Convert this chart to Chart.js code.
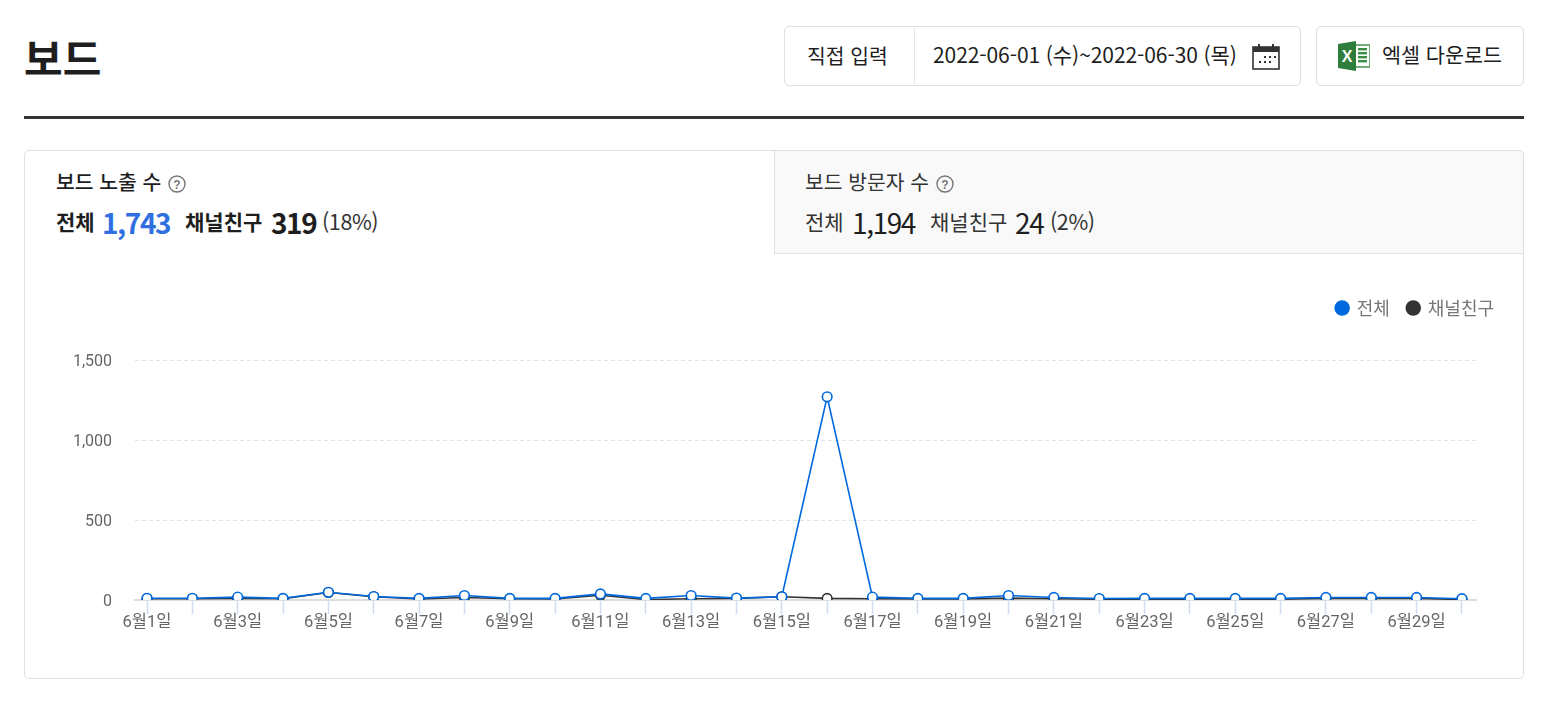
<!DOCTYPE html>
<html lang="ko">
<head>
<meta charset="utf-8">
<title>보드</title>
<script src="https://cdn.jsdelivr.net/npm/chart.js@4"></script>
<style>
  html, body { margin: 0; padding: 0; background: #fff; }
  body { width: 1548px; height: 702px; position: relative; overflow: hidden; font-family: "Noto Sans CJK KR", "Noto Sans", sans-serif; color: #1e1e1e; }
  .abs { position: absolute; white-space: nowrap; line-height: 1; }
  .box { position: absolute; box-sizing: border-box; border: 1px solid #e0e0e0; border-radius: 5px; background: #fff; }
  .title { left: 24px; top: 36px; font-size: 42px; font-weight: 700; }
  .rule { position: absolute; left: 24px; top: 116px; width: 1500px; height: 3px; background: #333; }
  .card { left: 24px; top: 150px; width: 1500px; height: 529px; }
  .tab { position: absolute; left: 774px; top: 150px; width: 750px; height: 104px; box-sizing: border-box; background: #f9f9f9; border: 1px solid #e0e0e0; border-radius: 0 5px 0 0; }
  .bold { font-weight: 700; }
  .num { font-size: 28px; letter-spacing: -1.4px; }
  .help { position: absolute; width: 18px; height: 18px; }
  #chart-wrap { position: absolute; left: 25px; top: 270px; width: 1498px; height: 400px; }
</style>
</head>
<body>
  <div class="abs title">보드</div>

  <div class="box" style="left:784px;top:26px;width:517px;height:60px"></div>
  <div style="position:absolute;left:914px;top:27px;width:1px;height:58px;background:#e6e6e6"></div>
  <div class="abs" style="left:807px;top:45px;font-size:20.4px">직접 입력</div>
  <div class="abs" style="left:933px;top:44px;font-size:21px;letter-spacing:-0.08px">2022-06-01 (수)~2022-06-30 (목)</div>
  <svg class="abs" style="left:1252px;top:43px" width="28" height="27" viewBox="0 0 28 27">
    <rect x="1" y="4" width="26" height="22" fill="none" stroke="#333" stroke-width="1.6"/>
    <rect x="1" y="4" width="26" height="5" fill="#333"/>
    <rect x="6" y="1" width="2" height="5" fill="#333"/>
    <rect x="20" y="1" width="2" height="5" fill="#333"/>
    <g fill="#333">
      <rect x="12" y="13" width="2" height="2"/><rect x="17" y="13" width="2" height="2"/><rect x="22" y="13" width="2" height="2"/>
      <rect x="7" y="18" width="2" height="2"/><rect x="12" y="18" width="2" height="2"/><rect x="17" y="18" width="2" height="2"/>
    </g>
  </svg>

  <div class="box" style="left:1316px;top:26px;width:208px;height:60px"></div>
  <svg class="abs" style="left:1338px;top:41px" width="32" height="30" viewBox="0 0 32 30">
    <rect x="12" y="4" width="20" height="22" fill="#fff" stroke="#3a8f45" stroke-width="1.4"/>
    <g fill="#3a8f45">
      <rect x="20" y="7" width="9" height="2.4"/><rect x="20" y="11" width="9" height="2.4"/><rect x="20" y="15" width="9" height="2.4"/><rect x="20" y="19" width="9" height="2.4"/>
    </g>
    <polygon points="0,3 18,0 18,30 0,27" fill="#2f7d3a"/>
    <text x="9" y="21" text-anchor="middle" font-family="Liberation Sans" font-weight="700" font-size="16" fill="#fff">X</text>
  </svg>
  <div class="abs" style="left:1382px;top:44px;font-size:20.7px">엑셀 다운로드</div>

  <div class="rule"></div>

  <div class="box card"></div>
  <div class="tab"></div>

  <div class="abs" style="left:56px;top:171px;font-size:20.4px;font-weight:500">보드 노출 수</div>
  <svg class="help" style="left:168px;top:175px" viewBox="0 0 18 18">
    <circle cx="9" cy="9" r="8" fill="none" stroke="#777" stroke-width="1.4"/>
    <text x="9" y="13.5" text-anchor="middle" font-family="Liberation Sans" font-weight="700" font-size="12" fill="#777">?</text>
  </svg>
  <div class="abs bold" style="left:56px;top:211px;font-size:21px">전체</div>
  <div class="abs bold num" style="left:102px;top:208px;color:#2f6fdf">1,743</div>
  <div class="abs bold" style="left:185px;top:211px;font-size:21px">채널친구</div>
  <div class="abs bold num" style="left:271px;top:208px">319</div>
  <div class="abs" style="left:322px;top:210px;font-size:21.5px;color:#333;letter-spacing:-0.4px">(18%)</div>

  <div class="abs" style="left:805px;top:171px;font-size:20.4px;color:#333">보드 방문자 수</div>
  <svg class="help" style="left:936px;top:175px" viewBox="0 0 18 18">
    <circle cx="9" cy="9" r="8" fill="none" stroke="#777" stroke-width="1.4"/>
    <text x="9" y="13.5" text-anchor="middle" font-family="Liberation Sans" font-weight="700" font-size="12" fill="#777">?</text>
  </svg>
  <div class="abs" style="left:805px;top:211px;font-size:21px;color:#333">전체</div>
  <div class="abs num" style="left:852px;top:208px">1,194</div>
  <div class="abs" style="left:930px;top:211px;font-size:21px;color:#333">채널친구</div>
  <div class="abs num" style="left:1015px;top:208px">24</div>
  <div class="abs" style="left:1050px;top:210px;font-size:21.5px;color:#333;letter-spacing:-0.4px">(2%)</div>

  <div id="chart-wrap"><canvas id="board-chart"></canvas></div>

<script>
  const days = [1, 2, 3, 4, 5, 6, 7, 8, 9, 10, 11, 12, 13, 14, 15, 16, 17, 18, 19, 20, 21, 22, 23, 24, 25, 26, 27, 28, 29, 30];
  const dayLabels = ['6월1일', '6월2일', '6월3일', '6월4일', '6월5일', '6월6일', '6월7일', '6월8일', '6월9일', '6월10일', '6월11일', '6월12일', '6월13일', '6월14일', '6월15일', '6월16일', '6월17일', '6월18일', '6월19일', '6월20일', '6월21일', '6월22일', '6월23일', '6월24일', '6월25일', '6월26일', '6월27일', '6월28일', '6월29일', '6월30일'];
  const totalValues = [11, 11, 18, 10, 48, 22, 10, 28, 10, 10, 38, 10, 28, 12, 20, 1270, 18, 10, 10, 28, 16, 9, 10, 10, 10, 10, 16, 16, 16, 8];
  const friendValues = [8, 8, 10, 8, 47, 20, 6, 16, 8, 7, 30, 3, 8, 10, 20, 10, 8, 7, 7, 12, 8, 5, 5, 5, 5, 5, 10, 10, 10, 3];
  const yTicks = [0, 500, 1000, 1500];

  const BLUE = '#0069e0';
  const DARK = '#333333';

  function toPoints(values) {
    return values.map((value, i) => ({ x: days[i], y: value }));
  }

  function lineDataset(label, values, color) {
    return {
      label,
      data: toPoints(values),
      borderColor: color,
      borderWidth: 1.6,
      tension: 0,
      pointRadius: 4.8,
      pointBorderWidth: 1.6,
      pointBackgroundColor: '#fff',
      pointBorderColor: color,
      legendColor: color,
    };
  }

  // empty axis that only reserves room next to the plot
  function spacerScale(axis, position, size) {
    return {
      axis,
      position,
      display: true,
      ticks: { display: false },
      grid: { display: false },
      border: { display: false },
      afterFit(scale) {
        if (axis === 'x') scale.height = size;
        else scale.width = size;
      },
    };
  }

  new Chart(document.getElementById('board-chart'), {
    type: 'line',
    data: {
      datasets: [
        lineDataset('전체', totalValues, BLUE),
        lineDataset('채널친구', friendValues, DARK),
      ],
    },
    options: {
      responsive: true,
      maintainAspectRatio: false,
      animation: false,
      layout: { padding: { top: 11, right: 11, bottom: 0, left: 0 } },
      plugins: {
        tooltip: { enabled: false },
        legend: {
          position: 'top',
          align: 'end',
          labels: {
            color: '#767676',
            font: { family: '"Noto Sans CJK KR"', size: 18 },
            usePointStyle: true,
            pointStyle: 'circle',
            boxHeight: 11,
            boxWidth: 11,
            padding: 18,
            generateLabels(chart) {
              return chart.data.datasets.map((dataset, i) => ({
                text: dataset.label,
                fontColor: '#767676',
                fillStyle: dataset.legendColor,
                strokeStyle: dataset.legendColor,
                lineWidth: 0,
                pointStyle: 'circle',
                datasetIndex: i,
              }));
            },
          },
        },
      },
      scales: {
        x: {
          type: 'linear',
          min: 0.735,
          max: 30.31,
          afterBuildTicks(scale) {
            scale.ticks = days.map((value) => ({ value }));
          },
          afterFit(scale) {
            scale.height = 70;
          },
          ticks: {
            autoSkip: false,
            maxRotation: 0,
            minRotation: 0,
            padding: -1,
            color: '#666',
            font: { family: 'Roboto, "Noto Sans CJK KR"', size: 16.5 },
            callback(value) {
              return value % 2 === 1 ? dayLabels[value - 1] : '';
            },
          },
          grid: {
            drawOnChartArea: false,
            drawTicks: true,
            tickLength: 14,
            tickColor: '#cfdbee',
            tickWidth: 1.5,
          },
          border: { color: '#dddddd', width: 2 },
        },
        y: {
          min: 0,
          max: 1500,
          afterBuildTicks(scale) {
            scale.ticks = yTicks.map((value) => ({ value }));
          },
          afterFit(scale) {
            scale.width = 110;
          },
          ticks: {
            padding: 23,
            labelOffset: 1.5,
            color: '#666',
            font: { family: 'Roboto, "Noto Sans CJK KR"', size: 16 },
            callback(value) {
              return value.toLocaleString('en-US');
            },
          },
          grid: { color: '#dfe2e6', drawTicks: false, lineWidth: 1 },
          border: { display: false, dash: [4, 3] },
        },
        rightSpace: spacerScale('y', 'right', 36),
        topSpace: spacerScale('x', 'top', 33),
      },
    },
  });
</script>
</body>
</html>
